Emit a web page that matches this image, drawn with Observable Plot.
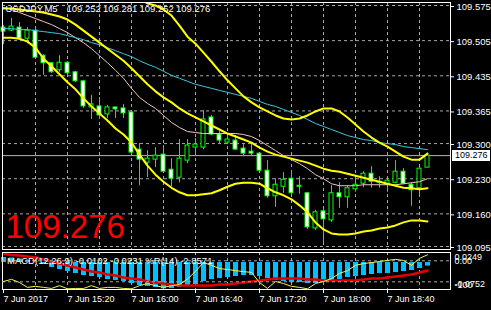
<!DOCTYPE html>
<html><head><meta charset="utf-8">
<script src="https://cdn.jsdelivr.net/npm/d3@7"></script>
<script src="https://cdn.jsdelivr.net/npm/@observablehq/plot@0.6"></script>
<style>
html,body{margin:0;padding:0;background:#000;}
#chart{position:relative;width:491px;height:310px;background:#000;overflow:hidden;}
#chart svg{position:absolute;left:0;}
</style></head><body><div id="chart"></div>
<script>
// ---------- data ----------
const symbol = "USDJPY,M5";
const open  = [109.531,109.525,109.531,109.509,109.525,109.475,109.460,109.446,109.461,109.442,109.424,109.372,109.374,109.358,109.372,109.370,109.362,109.288,109.262,109.268,109.278,109.248,109.232,109.266,109.292,109.292,109.352,109.318,109.302,109.306,109.290,109.284,109.280,109.246,109.195,109.214,109.230,109.216,109.201,109.131,109.165,109.147,109.201,109.193,109.209,109.220,109.240,109.222,109.218,109.222,109.244,109.218,109.211,109.252];
const high  = [109.535,109.549,109.541,109.531,109.527,109.477,109.461,109.475,109.463,109.444,109.426,109.396,109.392,109.376,109.372,109.378,109.364,109.300,109.286,109.292,109.296,109.270,109.308,109.308,109.310,109.366,109.356,109.324,109.320,109.316,109.298,109.300,109.280,109.266,109.230,109.242,109.246,109.234,109.203,109.167,109.169,109.216,109.222,109.216,109.230,109.244,109.254,109.234,109.230,109.266,109.250,109.222,109.252,109.281];
const low   = [109.497,109.523,109.505,109.499,109.469,109.436,109.440,109.442,109.436,109.422,109.370,109.348,109.348,109.350,109.350,109.350,109.280,109.216,109.232,109.252,109.242,109.214,109.222,109.260,109.276,109.288,109.316,109.298,109.298,109.286,109.274,109.276,109.242,109.191,109.173,109.201,109.197,109.199,109.129,109.127,109.101,109.143,109.171,109.171,109.203,109.212,109.211,109.211,109.203,109.220,109.218,109.175,109.197,109.252];
const close = [109.523,109.533,109.509,109.525,109.471,109.460,109.442,109.461,109.440,109.424,109.374,109.378,109.356,109.372,109.368,109.360,109.282,109.268,109.270,109.276,109.244,109.230,109.270,109.296,109.298,109.348,109.318,109.306,109.308,109.288,109.280,109.280,109.246,109.195,109.218,109.228,109.201,109.214,109.133,109.163,109.149,109.201,109.193,109.211,109.218,109.240,109.224,109.224,109.226,109.244,109.220,109.207,109.250,109.276];
const bbUpper  = [109.627,109.625,109.625,109.627,109.635,109.653,109.661,109.669,109.673,109.667,109.661,109.653,109.643,109.633,109.625,109.613,109.597,109.589,109.579,109.575,109.567,109.555,109.535,109.513,109.499,109.481,109.463,109.444,109.426,109.410,109.394,109.382,109.372,109.364,109.356,109.350,109.348,109.350,109.356,109.364,109.370,109.370,109.364,109.352,109.338,109.324,109.312,109.302,109.294,109.284,109.274,109.268,109.268,109.280];
const bbMiddle = [109.569,109.569,109.567,109.565,109.563,109.561,109.557,109.553,109.547,109.537,109.525,109.513,109.501,109.489,109.477,109.465,109.450,109.434,109.418,109.404,109.392,109.382,109.370,109.360,109.352,109.344,109.336,109.328,109.320,109.314,109.308,109.302,109.292,109.284,109.278,109.274,109.270,109.266,109.262,109.256,109.250,109.246,109.244,109.240,109.236,109.232,109.228,109.224,109.220,109.216,109.212,109.211,109.209,109.211];
const bbLower  = [109.511,109.511,109.509,109.503,109.491,109.469,109.454,109.438,109.422,109.408,109.390,109.374,109.360,109.346,109.330,109.318,109.302,109.278,109.256,109.238,109.224,109.212,109.203,109.197,109.197,109.199,109.201,109.207,109.214,109.220,109.222,109.222,109.220,109.211,109.203,109.197,109.189,109.177,109.163,109.143,109.129,109.121,109.119,109.119,109.121,109.125,109.127,109.131,109.133,109.137,109.143,109.147,109.147,109.145];
const maCyan = [109.529,109.529,109.527,109.527,109.525,109.523,109.521,109.519,109.515,109.511,109.507,109.501,109.497,109.491,109.485,109.479,109.473,109.465,109.458,109.452,109.444,109.436,109.430,109.424,109.418,109.414,109.410,109.406,109.402,109.398,109.394,109.390,109.384,109.378,109.374,109.368,109.362,109.356,109.348,109.340,109.334,109.328,109.322,109.316,109.312,109.308,109.306,109.302,109.300,109.298,109.294,109.292,109.290,109.288];
const maPink = [109.571,109.567,109.561,109.555,109.549,109.543,109.537,109.529,109.521,109.511,109.501,109.489,109.475,109.461,109.446,109.430,109.410,109.392,109.380,109.370,109.356,109.342,109.332,109.324,109.322,109.320,109.320,109.320,109.320,109.320,109.318,109.314,109.306,109.296,109.286,109.276,109.268,109.260,109.250,109.238,109.230,109.220,109.216,109.216,109.216,109.218,109.218,109.218,109.218,109.218,109.220,109.222,109.224,109.230];
const macdHist = [0.0143,0.0129,0.0100,0.0057,0.0010,-0.0057,-0.0143,-0.0200,-0.0257,-0.0314,-0.0371,-0.0400,-0.0429,-0.0486,-0.0514,-0.0543,-0.0600,-0.0657,-0.0686,-0.0714,-0.0752,-0.0743,-0.0714,-0.0686,-0.0629,-0.0543,-0.0486,-0.0457,-0.0429,-0.0400,-0.0371,-0.0371,-0.0400,-0.0457,-0.0514,-0.0543,-0.0571,-0.0571,-0.0600,-0.0600,-0.0571,-0.0514,-0.0486,-0.0429,-0.0400,-0.0371,-0.0343,-0.0314,-0.0314,-0.0286,-0.0257,-0.0229,-0.0171,-0.0102];
const macdSignal = [0.0249,0.0214,0.0200,0.0171,0.0143,0.0086,0.0029,-0.0029,-0.0086,-0.0143,-0.0200,-0.0257,-0.0286,-0.0343,-0.0371,-0.0429,-0.0457,-0.0486,-0.0543,-0.0571,-0.0600,-0.0629,-0.0657,-0.0657,-0.0657,-0.0657,-0.0657,-0.0629,-0.0629,-0.0600,-0.0571,-0.0543,-0.0514,-0.0486,-0.0457,-0.0457,-0.0457,-0.0457,-0.0486,-0.0486,-0.0514,-0.0514,-0.0514,-0.0514,-0.0514,-0.0486,-0.0457,-0.0457,-0.0429,-0.0400,-0.0371,-0.0343,-0.0286,-0.0231];
const wpr = [-79,-73,-82,-96,-93,-96,-99,-91,-100,-99,-99,-91,-99,-96,-96,-99,-100,-91,-85,-91,-96,-91,-88,-72,-50,-25,-33,-42,-45,-48,-51,-53,-82,-99,-79,-85,-93,-96,-100,-85,-79,-71,-56,-48,-33,-28,-25,-22,-19,-16,-19,-33,-13,-2.8571];
const priceTicks = [109.575,109.505,109.435,109.365,109.300,109.230,109.160,109.095];
const macdRange = [-0.0752, 0.0249];
const wprRange = [-100, 0];
const wprLevels = [-20, -80];
const timeTickIdx = [0, 8, 16, 24, 32, 40, 48];
const timeLabels = ["7 Jun 2017","7 Jun 15:20","7 Jun 16:00","7 Jun 16:40","7 Jun 17:20","7 Jun 18:00","7 Jun 18:40"];
const gridIdx = [4,8,12,16,20,24,28,32,36,40,44,48,52];

// ---------- build ----------
const n = close.length, last = n - 1;
const rows = d3.range(n).map(i => ({i, o: open[i], h: high[i], l: low[i], c: close[i],
  ub: bbUpper[i], mb: bbMiddle[i], lb: bbLower[i], ma1: maCyan[i], ma2: maPink[i],
  mh: macdHist[i], ms: macdSignal[i], r: wpr[i]}));
const lastClose = close[last];
const ohlcText = [open[last], high[last], low[last], close[last]].map(v => v.toFixed(3));
const font = "'Liberation Sans', Arial, sans-serif";
const W = 491;
const GRID = {stroke: "#a8a8a8", strokeOpacity: 1, strokeDasharray: "3,3"};
const LIME = "#00ff00";
const xScale = {type: "linear", domain: [-0.125, n + 1.875], axis: null, label: null};
const baseStyle = {background: "transparent", color: "white", fontFamily: font, fontSize: "9px", overflow: "visible"};
const dims = {width: W, marginLeft: 2, marginRight: 41};

function lastPriceBox(index, scales, values, d) {
  const y = Math.round(scales.y(lastClose));
  const x0 = d.width - d.marginRight + 2;
  const g = d3.create("svg:g");
  g.append("rect").attr("x", x0).attr("y", y - 5).attr("width", 38).attr("height", 11).attr("fill", "white");
  g.append("text").attr("x", x0 + 3).attr("y", y).attr("dy", "0.35em").attr("fill", "black")
    .attr("text-anchor", "start").attr("font-size", 9).attr("font-family", font).text(lastClose.toFixed(3));
  return g.node();
}

const pricePlot = Plot.plot({
  ...dims, height: 250, marginTop: 2, marginBottom: 1,
  style: baseStyle,
  x: xScale,
  y: {domain: [priceTicks[priceTicks.length - 1], priceTicks[0]], range: [246, 5], axis: null, label: null},
  marks: [
    Plot.gridY(priceTicks, GRID),
    Plot.gridX(gridIdx, GRID),
    Plot.ruleY([lastClose], {stroke: "#b4b4b4"}),
    Plot.ruleX(rows, {x: "i", y1: "l", y2: "h", stroke: LIME}),
    Plot.rect(rows.filter(d => d.c >= d.o), {x1: d => d.i - 0.25, x2: d => d.i + 0.25, y1: "o", y2: "c", fill: "black", stroke: LIME}),
    Plot.rect(rows.filter(d => d.c < d.o), {x1: d => d.i - 0.25, x2: d => d.i + 0.25, y1: "o", y2: "c", fill: "white", stroke: LIME}),
    Plot.line(rows, {x: "i", y: "ma2", stroke: "#f2c4c4", strokeWidth: 1, clip: true}),
    Plot.line(rows, {x: "i", y: "ma1", stroke: "#40c8d8", strokeWidth: 1, clip: true}),
    Plot.line(rows, {x: "i", y: "ub", stroke: "#ffff00", strokeWidth: 2, clip: true}),
    Plot.line(rows, {x: "i", y: "mb", stroke: "#ffff00", strokeWidth: 2, clip: true}),
    Plot.line(rows, {x: "i", y: "lb", stroke: "#ffff00", strokeWidth: 2, clip: true}),
    Plot.axisY(priceTicks, {anchor: "right", tickSize: 3, tickPadding: 3, dy: 1, label: null, tickFormat: d3.format(".3f"), fontSize: 9.5, fill: "white", stroke: "white"}),
    lastPriceBox,
    Plot.text([symbol], {frameAnchor: "top-left", dx: 3, dy: 3, lineAnchor: "top", fill: "white", fontSize: 9.5}),
    ...ohlcText.map((t, k) => Plot.text([t], {frameAnchor: "top-left", dx: 64 + k * 36.5, dy: 3, lineAnchor: "top", textAnchor: "start", fill: "white", fontSize: 9.5})),
    Plot.text([lastClose], {frameAnchor: "bottom-left", text: d => d.toFixed(3), dx: 3, dy: -12, lineAnchor: "bottom", fill: "#ff0000", fontSize: 33}),
    Plot.frame({stroke: "white"})
  ]
});
pricePlot.style.top = "0px";

const macdPlot = Plot.plot({
  ...dims, height: 60, marginTop: 2, marginBottom: 21,
  style: baseStyle,
  x: xScale,
  y: {domain: macdRange, range: [38.3, 3.3], axis: null, label: null},
  marks: [
    Plot.gridX(gridIdx, GRID),
    Plot.ruleX(rows, {x: "i", y1: 0, y2: "mh", stroke: "#00bfff", strokeWidth: 5}),
    Plot.line(rows, {x: "i", y: "ms", stroke: "#e00000", strokeWidth: 2.5}),
    Plot.axisX(timeTickIdx, {anchor: "bottom", tickSize: 4, tickPadding: 2, textAnchor: "start", label: null,
      tickFormat: d => timeLabels[timeTickIdx.indexOf(d)], fontSize: 9, fill: "white", stroke: "white"}),
    Plot.text([macdRange[1]], {y: d => d, frameAnchor: "right", dx: 4, textAnchor: "start", lineAnchor: "top", fill: "white", fontSize: 9, text: d => d.toFixed(4)}),
    Plot.text([macdRange[0]], {y: d => d, frameAnchor: "right", dx: 4, dy: -2, textAnchor: "start", lineAnchor: "bottom", fill: "white", fontSize: 9, text: d => d.toFixed(4)}),
    Plot.frame({stroke: "white"})
  ]
});
macdPlot.style.top = "250px";

const macdLabel = `MACD(12,26,9) ${macdHist[last].toFixed(4)} ${macdSignal[last].toFixed(4)} %R(14) ${wpr[last].toFixed(4)}`;
const wprPlot = Plot.plot({
  ...dims, height: 60, marginTop: 2, marginBottom: 21,
  style: baseStyle,
  x: xScale,
  y: {domain: wprRange, range: [38.3, 3.3], axis: null, label: null},
  marks: [
    Plot.ruleY(wprLevels, GRID),
    Plot.line(rows, {x: "i", y: "r", stroke: "#f4f45a", strokeWidth: 1}),
    Plot.text([wprRange[1]], {y: d => d, frameAnchor: "right", dx: 4, dy: 4, textAnchor: "start", lineAnchor: "top", fill: "white", fontSize: 9, text: d => d.toFixed(2)}),
    Plot.text([wprRange[0]], {y: d => d, frameAnchor: "right", dx: 4, dy: -1, textAnchor: "start", lineAnchor: "bottom", fill: "white", fontSize: 9, text: d => String(d)}),
    Plot.text([macdLabel], {frameAnchor: "top-left", dx: 4.5, dy: 5, lineAnchor: "top", fill: "white", fontSize: 9.5})
  ]
});
wprPlot.style.top = "250px";

const chart = document.getElementById("chart");
chart.append(pricePlot, macdPlot, wprPlot);
</script>
</body></html>
